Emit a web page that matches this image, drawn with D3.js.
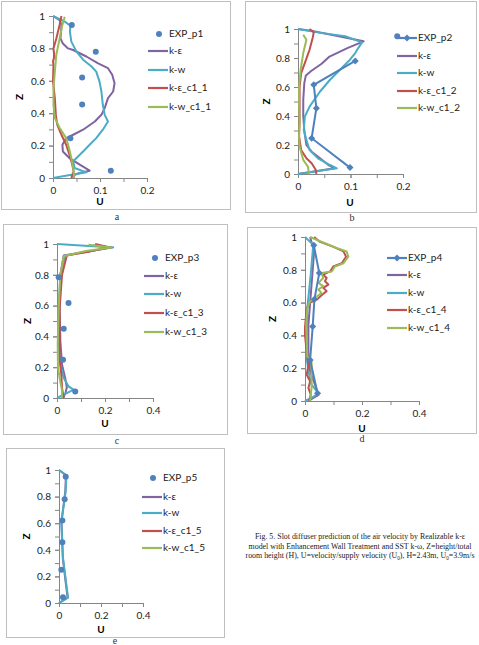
<!DOCTYPE html>
<html><head><meta charset="utf-8">
<script src="https://cdn.jsdelivr.net/npm/d3@7"></script>
<style>body{margin:0;background:#fff}svg{display:block}</style>
</head><body>
<script>
// ---------- DATA (U, Z) ----------
const seriesNames = ["EXP", "k-ε", "k-w", "k-ε_c1", "k-w_c1"];
const panelLetters = ["a", "b", "c", "d", "e"];

// Panel a
const expA = [[0.040,0.945],[0.091,0.78],[0.062,0.62],[0.062,0.454],[0.037,0.246],[0.123,0.045]];
const keA = [[0,1],[0.014,0.975],[0.018,0.945],[0.016,0.86],[0.021,0.83],[0.032,0.80],[0.043,0.79],[0.071,0.75],[0.096,0.708],[0.117,0.678],[0.126,0.637],[0.131,0.585],[0.128,0.534],[0.117,0.493],[0.110,0.431],[0.103,0.39],[0.089,0.349],[0.064,0.298],[0.043,0.267],[0.028,0.246],[0.020,0.205],[0.021,0.164],[0.035,0.123],[0.057,0.082],[0.078,0.045],[0.057,0.031],[0.046,0.02],[0.043,0]];
const kwA = [[0,1],[0.025,0.965],[0.037,0.94],[0.036,0.903],[0.039,0.842],[0.050,0.78],[0.064,0.73],[0.082,0.688],[0.092,0.657],[0.099,0.595],[0.103,0.534],[0.106,0.452],[0.110,0.39],[0.117,0.349],[0.106,0.298],[0.092,0.246],[0.078,0.205],[0.064,0.164],[0.050,0.123],[0.043,0.103],[0.046,0.062],[0.071,0.035],[0.030,0.015],[0,0]];
const keC1A = [[0.018,1],[0.014,0.945],[0.007,0.86],[0.001,0.80],[0.003,0.75],[0.0,0.72],[0.001,0.70],[0,0.6],[0.004,0.49],[0.006,0.39],[0.009,0.33],[0.018,0.267],[0.028,0.205],[0.035,0.144],[0.041,0.082],[0.044,0.041],[0.039,0]];
const kwC1A = [[0.025,0.995],[0.020,0.945],[0.014,0.86],[0.007,0.76],[0.004,0.66],[0.001,0.55],[0.001,0.45],[0.004,0.37],[0.014,0.31],[0.028,0.246],[0.034,0.185],[0.039,0.123],[0.043,0.062],[0.045,0]];

// Panel b
const expB = [[0.099,0.044],[0.026,0.247],[0.035,0.454],[0.030,0.615],[0.109,0.78]];
const expBTop = [[0.189,0.95]];
const keB = [[0,1],[0.03,0.985],[0.125,0.915],[0.095,0.87],[0.072,0.83],[0.06,0.81],[0.045,0.76],[0.025,0.71],[0.015,0.68],[0.012,0.627],[0.010,0.51],[0.010,0.40],[0.012,0.30],[0.016,0.2],[0.026,0.154],[0.042,0.108],[0.058,0.062],[0.07,0.04],[0,0]];
const kwB = [[0,1],[0.04,0.975],[0.09,0.95],[0.122,0.908],[0.115,0.87],[0.109,0.834],[0.099,0.788],[0.080,0.719],[0.061,0.65],[0.042,0.569],[0.022,0.465],[0.013,0.396],[0.011,0.304],[0.016,0.235],[0.022,0.166],[0.038,0.108],[0.061,0.062],[0.074,0.039],[0,0]];
const keC1B = [[0.022,1],[0.030,0.977],[0.028,0.94],[0.022,0.857],[0.013,0.765],[0.006,0.696],[0.003,0.60],[0.003,0.49],[0.003,0.37],[0.002,0.26],[0.006,0.166],[0.016,0.108],[0.026,0.074],[0.034,0.028],[0.035,0]];
const kwC1B = [[0.010,0.96],[0.016,0.926],[0.010,0.834],[0.005,0.719],[0.002,0.6],[0.002,0.49],[0.003,0.37],[0.002,0.26],[0.003,0.19],[0.010,0.097],[0.019,0.05],[0.021,0]];

// Panel c
const expC = [[0.007,0.784],[0.048,0.617],[0.028,0.45],[0.025,0.249],[0.076,0.043]];
const keC = [[0.15,0.99],[0.232,0.978],[0.028,0.926],[0.014,0.80],[0.011,0.584],[0.014,0.368],[0.021,0.216],[0.034,0.13],[0.041,0.07],[0.035,0.03],[0.025,0]];
const kwC = [[0,1],[0.234,0.978],[0.034,0.926],[0.014,0.80],[0.007,0.584],[0.007,0.368],[0.014,0.216],[0.028,0.13],[0.048,0.076],[0.069,0.054],[0.041,0.032],[0,0]];
const keC1C = [[0.159,1],[0.221,0.978],[0.138,0.952],[0.041,0.926],[0.021,0.80],[0.011,0.584],[0.011,0.26],[0.018,0.15],[0.021,0.065],[0.028,0]];
const kwC1C = [[0.131,0.995],[0.225,0.978],[0.12,0.955],[0.028,0.92],[0.014,0.8],[0.007,0.584],[0.003,0.35],[0.004,0.2],[0.011,0.13],[0.021,0.05],[0.021,0]];

// Panel d
const expD = [[0.031,0.95],[0.050,0.78],[0.033,0.62],[0.027,0.454],[0.018,0.25],[0.044,0.047]];
const keD = [[0.018,1],[0.032,0.91],[0.023,0.71],[0.012,0.465],[0.012,0.3],[0.018,0.18],[0.035,0.1],[0.047,0.037],[0.012,0]];
const kwD = [[0,1],[0.029,0.953],[0.020,0.77],[0.008,0.566],[0.006,0.36],[0.006,0.26],[0.012,0.18],[0.023,0.1],[0.047,0.047],[0.030,0.027],[0,0]];
const keC1D = [[0.032,1],[0.053,0.97],[0.100,0.94],[0.135,0.912],[0.144,0.88],[0.129,0.84],[0.099,0.82],[0.088,0.79],[0.064,0.77],[0.076,0.75],[0.070,0.73],[0.082,0.71],[0.064,0.69],[0.076,0.67],[0.058,0.645],[0.041,0.618],[0.018,0.60],[0.006,0.566],[0.0,0.45],[0.0,0.40],[0.006,0.30],[0.012,0.22],[0.006,0.16],[0.018,0.12],[0.012,0.08],[0.020,0.04],[0.015,0]];
const kwC1D = [[0.018,1],[0.053,0.974],[0.111,0.933],[0.146,0.912],[0.152,0.88],[0.135,0.84],[0.105,0.82],[0.094,0.79],[0.058,0.78],[0.064,0.75],[0.047,0.72],[0.064,0.70],[0.047,0.68],[0.058,0.658],[0.041,0.637],[0.018,0.607],[0.008,0.566],[0.004,0.464],[0.006,0.363],[0.008,0.271],[0.023,0.25],[0.023,0.16],[0.023,0.08],[0.018,0]];

// Panel e
const expE = [[0.032,0.95],[0.027,0.78],[0.016,0.62],[0.016,0.457],[0.011,0.25],[0.019,0.043]];
const keE = [[0,1],[0.033,0.96],[0.030,0.84],[0.012,0.61],[0.018,0.34],[0.033,0.14],[0.041,0.04],[0,0]];
const kwE = [[0,1],[0.035,0.96],[0.032,0.84],[0.011,0.61],[0.019,0.34],[0.035,0.14],[0.043,0.04],[0,0]];
const keC1E = [];
const kwC1E = [];

const zTicks = [0, 0.2, 0.4, 0.6, 0.8, 1];
const captionLines = [
  "Fig. 5.  Slot diffuser prediction of the air velocity by Realizable k-ε",
  "model with Enhancement Wall Treatment and SST k-ω, Z=height/total",
  ["room height (H), U=velocity/supply velocity (U", "0", "), H=2.43m, U", "0", "=3.9m/s"]
];

// ---------- STYLE ----------
const C = {exp:"#4F81BD", ke:"#8064A2", kw:"#4BACC6", kec:"#C0504D", kwc:"#9BBB59"};
const FONT = "Lato, 'Open Sans', sans-serif";

const svg = d3.select("body").append("svg").attr("width",479).attr("height",645);
svg.append("rect").attr("width",479).attr("height",645).attr("fill","#fff");

const panels = [
  {box:[1,1,230,209], lab:[117,220], x0:53, x1:147, umax:0.2, xt:[0,0.1,0.2], xm:0.05, y0:178, y1:16, zx:20, ux:100, uy:202,
   leg:{lx:148, ly:[34,51,70,88,107]}, exp:expA, ke:keA, kw:kwA, kec:keC1A, kwc:kwC1A, n:"1", expStyle:"dot"},
  {box:[245,1,476,212], lab:[352,221], x0:298, x1:403, umax:0.2, xt:[0,0.1,0.2], xm:0.05, y0:174, y1:29, zx:267, ux:350, uy:203,
   leg:{lx:397, ly:[38,56,73,91,108]}, exp:expB, ke:keB, kw:kwB, kec:keC1B, kwc:kwC1B, n:"2", expStyle:"diamond", extra:expBTop},
  {box:[3,224,227,434], lab:[117,444], x0:57, x1:153, umax:0.4, xt:[0,0.2,0.4], xm:0.1, y0:398, y1:244, zx:28, ux:105, uy:424,
   leg:{lx:144, ly:[258,276,294,313,332]}, exp:expC, ke:keC, kw:kwC, kec:keC1C, kwc:kwC1C, n:"3", expStyle:"dot"},
  {box:[247,227,476,433], lab:[362,442], x0:305, x1:419, umax:0.4, xt:[0,0.2,0.4], xm:0.1, y0:401, y1:237, zx:273, ux:362, uy:429,
   leg:{lx:387, ly:[258,275,293,310,328]}, exp:expD, ke:keD, kw:kwD, kec:keC1D, kwc:kwC1D, n:"4", expStyle:"diamond"},
  {box:[6,448,224,637], lab:[115,644], x0:59, x1:143, umax:0.4, xt:[0,0.2,0.4], xm:0.1, y0:603, y1:470, zx:27, ux:101, uy:630,
   leg:{lx:142, ly:[478,497,513,531,548]}, exp:expE, ke:keE, kw:kwE, kec:keC1E, kwc:kwC1E, n:"5", expStyle:"dot"}
];

function diamond(g, x, y, s, col){
  g.append("path").attr("d",`M${x},${y-s}L${x+s},${y}L${x},${y+s}L${x-s},${y}Z`).attr("fill",col);
}

panels.forEach((p,i)=>{
  const g = svg.append("g");
  const [bx0,by0,bx1,by1] = p.box;
  g.append("rect").attr("x",bx0+0.5).attr("y",by0+0.5).attr("width",bx1-bx0).attr("height",by1-by0)
    .attr("fill","none").attr("stroke","#bfbfbf").attr("stroke-width",1);
  svg.append("text").attr("x",p.lab[0]).attr("y",p.lab[1]).attr("text-anchor","middle")
    .attr("font-family","'Liberation Serif', 'Times New Roman', serif").attr("font-size",10).attr("fill","#333").text(panelLetters[i]);

  const x = d3.scaleLinear().domain([0,p.umax]).range([p.x0,p.x1]);
  const y = d3.scaleLinear().domain([0,1]).range([p.y0,p.y1]);

  // minor ticks
  const xMinor = d3.range(0, p.umax+1e-9, p.xm);
  g.append("g").attr("transform",`translate(0,${p.y0})`)
    .call(d3.axisBottom(x).tickValues(xMinor).tickSize(4).tickFormat(""))
    .call(a=>{a.select(".domain").remove(); a.selectAll("line").attr("stroke","#868686");});
  g.append("g").attr("transform",`translate(${p.x0},0)`)
    .call(d3.axisLeft(y).tickValues(d3.range(0,1.0001,0.1)).tickSize(4).tickFormat(""))
    .call(a=>{a.select(".domain").remove(); a.selectAll("line").attr("stroke","#868686");});

  // major axes with labels
  const fmt = d=> d===0?"0":(d===1?"1":d3.format(".1f")(d));
  g.append("g").attr("transform",`translate(0,${p.y0})`)
    .call(d3.axisBottom(x).tickValues(p.xt).tickSize(4).tickSizeOuter(0).tickPadding(5).tickFormat(fmt))
    .call(a=>{a.select(".domain").attr("stroke","#868686"); a.selectAll("line").attr("stroke","#868686");
      a.selectAll("text").attr("font-family",FONT).attr("font-size",10).attr("fill","#222");});
  g.append("g").attr("transform",`translate(${p.x0},0)`)
    .call(d3.axisLeft(y).tickValues(zTicks).tickSize(4).tickSizeOuter(0).tickPadding(4).tickFormat(fmt))
    .call(a=>{a.select(".domain").attr("stroke","#868686"); a.selectAll("line").attr("stroke","#868686");
      a.selectAll("text").attr("font-family",FONT).attr("font-size",10).attr("fill","#222");});

  // axis titles
  g.append("text").attr("x",p.ux).attr("y",p.uy).attr("text-anchor","middle").attr("dominant-baseline","middle")
    .attr("font-family",FONT).attr("font-weight","bold").attr("font-size",10).text("U");
  g.append("text").attr("transform",`translate(${p.zx},${(p.y0+p.y1)/2}) rotate(-90)`).attr("text-anchor","middle")
    .attr("dominant-baseline","middle").attr("font-family",FONT).attr("font-weight","bold").attr("font-size",10).text("Z");

  const line = d3.line().x(d=>x(d[0])).y(d=>y(d[1]));
  const plot = g.append("g");
  [["ke",C.ke],["kw",C.kw],["kec",C.kec],["kwc",C.kwc]].forEach(([k,col])=>{
    if(p[k].length) plot.append("path").attr("d",line(p[k])).attr("fill","none").attr("stroke",col)
      .attr("stroke-width",2).attr("stroke-linejoin","round");
  });
  if(p.expStyle==="dot"){
    plot.selectAll(null).data(p.exp).join("circle").attr("cx",d=>x(d[0])).attr("cy",d=>y(d[1])).attr("r",3).attr("fill",C.exp);
  } else {
    plot.append("path").attr("d",line(p.exp)).attr("fill","none").attr("stroke",C.exp).attr("stroke-width",2);
    p.exp.forEach(d=>diamond(plot,x(d[0]),y(d[1]),3.5,C.exp));
  }
  if(p.extra) plot.selectAll(null).data(p.extra).join("circle").attr("cx",d=>x(d[0])).attr("cy",d=>y(d[1])).attr("r",3).attr("fill",C.exp);

  // legend
  const names = ["EXP_p"+p.n, "k-ε", "k-w", "k-ε_c1_"+p.n, "k-w_c1_"+p.n];
  const cols = [C.exp, C.ke, C.kw, C.kec, C.kwc];
  const lx = p.leg.lx;
  names.forEach((nm,j)=>{
    const ly = p.leg.ly[j];
    if(j===0 && p.expStyle==="dot"){
      g.append("circle").attr("cx",lx+11).attr("cy",ly).attr("r",3).attr("fill",C.exp);
    } else {
      g.append("line").attr("x1",lx).attr("x2",lx+20).attr("y1",ly).attr("y2",ly).attr("stroke",cols[j]).attr("stroke-width",2.2);
      if(j===0) diamond(g,lx+10,ly,3.5,C.exp);
    }
    g.append("text").attr("x",lx+21).attr("y",ly).attr("dominant-baseline","middle")
      .attr("font-family",FONT).attr("font-size",10).attr("fill","#222").text(nm);
  });
});

// caption
const cap = svg.append("text").attr("font-family","'Liberation Serif', 'Times New Roman', serif").attr("font-size",7.9)
  .attr("text-anchor","middle").attr("fill","#222");
captionLines.forEach((ln,k)=>{
  const t = cap.append("tspan").attr("x",360).attr("y",539+k*9.5);
  if(typeof ln === "string"){ t.text(ln); }
  else {
    ln.forEach((part,m)=>{
      const s = t.append("tspan").text(part);
      if(m%2===1) s.attr("font-size",5.2).attr("dy",1.5);
      else if(m>0) s.attr("dy",-1.5);
    });
  }
});
</script>
</body></html>
